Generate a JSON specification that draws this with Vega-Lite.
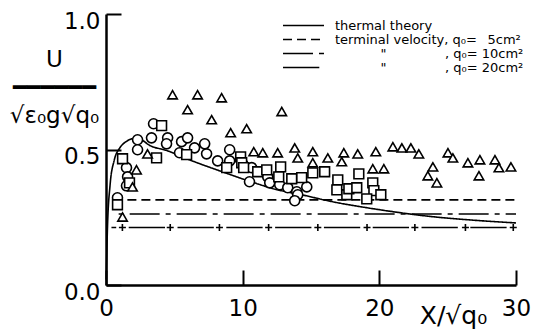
{
  "$schema": "https://vega.github.io/schema/vega-lite/v6.json",
  "width": 410,
  "height": 271,
  "autosize": {"type": "none"},
  "padding": {"left": 106, "top": 14, "right": 18, "bottom": 51},
  "background": "white",
  "config": {
    "view": {"stroke": null},
    "font": "DejaVu Sans",
    "axis": {
      "domainColor": "black",
      "domainWidth": 2.5,
      "tickColor": "black",
      "tickWidth": 2,
      "labelColor": "black",
      "titleColor": "black",
      "titleFontWeight": "normal",
      "grid": false,
      "labelFont": "DejaVu Sans",
      "titleFont": "DejaVu Sans"
    }
  },
  "datasets": {
    "curves": [
      {"series": "thermal", "x": 0.02, "u": 0.02},
      {"series": "thermal", "x": 0.1, "u": 0.2},
      {"series": "thermal", "x": 0.3, "u": 0.37},
      {"series": "thermal", "x": 0.6, "u": 0.46},
      {"series": "thermal", "x": 1.0, "u": 0.505},
      {"series": "thermal", "x": 1.5, "u": 0.53},
      {"series": "thermal", "x": 2.0, "u": 0.54},
      {"series": "thermal", "x": 2.6, "u": 0.535},
      {"series": "thermal", "x": 3.2, "u": 0.515},
      {"series": "thermal", "x": 4.4, "u": 0.497},
      {"series": "thermal", "x": 6.1, "u": 0.462},
      {"series": "thermal", "x": 8.5, "u": 0.418},
      {"series": "thermal", "x": 10.5, "u": 0.383},
      {"series": "thermal", "x": 12.5, "u": 0.352},
      {"series": "thermal", "x": 14.4, "u": 0.332},
      {"series": "thermal", "x": 16.6, "u": 0.307},
      {"series": "thermal", "x": 19.1, "u": 0.285},
      {"series": "thermal", "x": 21.5, "u": 0.267},
      {"series": "thermal", "x": 23.9, "u": 0.252},
      {"series": "thermal", "x": 26.4, "u": 0.241},
      {"series": "thermal", "x": 30.0, "u": 0.229},
      {"series": "tv5", "x": 0.8, "u": 0.314},
      {"series": "tv5", "x": 30.0, "u": 0.314},
      {"series": "tv10", "x": 0.6, "u": 0.262},
      {"series": "tv10", "x": 30.0, "u": 0.262},
      {"series": "tv20", "x": 0.4, "u": 0.212},
      {"series": "tv20", "x": 30.0, "u": 0.212}
    ],
    "crosses": [
      {"x": 1.2, "u": 0.212},
      {"x": 4.7, "u": 0.212},
      {"x": 8.3, "u": 0.212},
      {"x": 11.9, "u": 0.212},
      {"x": 15.5, "u": 0.212},
      {"x": 19.1, "u": 0.212},
      {"x": 22.6, "u": 0.212},
      {"x": 26.3, "u": 0.212},
      {"x": 29.8, "u": 0.212}
    ],
    "obs": [
      {"q": "q5", "x": 0.84, "u": 0.322},
      {"q": "q5", "x": 1.5, "u": 0.433},
      {"q": "q5", "x": 1.58, "u": 0.399},
      {"q": "q5", "x": 1.5, "u": 0.366},
      {"q": "q5", "x": 2.31, "u": 0.536},
      {"q": "q5", "x": 2.31, "u": 0.499},
      {"q": "q5", "x": 3.33, "u": 0.543},
      {"q": "q5", "x": 3.48, "u": 0.595},
      {"q": "q5", "x": 4.51, "u": 0.543},
      {"q": "q5", "x": 4.43, "u": 0.521},
      {"q": "q5", "x": 5.53, "u": 0.529},
      {"q": "q5", "x": 5.38, "u": 0.488},
      {"q": "q5", "x": 5.97, "u": 0.543},
      {"q": "q5", "x": 6.48, "u": 0.506},
      {"q": "q5", "x": 7.22, "u": 0.521},
      {"q": "q5", "x": 7.36, "u": 0.484},
      {"q": "q5", "x": 8.17, "u": 0.458},
      {"q": "q5", "x": 9.05, "u": 0.499},
      {"q": "q5", "x": 9.05, "u": 0.458},
      {"q": "q5", "x": 10.0, "u": 0.447},
      {"q": "q5", "x": 10.66, "u": 0.433},
      {"q": "q5", "x": 10.5, "u": 0.381},
      {"q": "q5", "x": 11.83, "u": 0.399},
      {"q": "q5", "x": 11.98, "u": 0.377},
      {"q": "q5", "x": 12.71, "u": 0.37},
      {"q": "q5", "x": 13.3, "u": 0.359},
      {"q": "q5", "x": 13.96, "u": 0.344},
      {"q": "q5", "x": 14.69, "u": 0.362},
      {"q": "q5", "x": 14.03, "u": 0.333},
      {"q": "q5", "x": 13.81, "u": 0.311},
      {"q": "q10", "x": 0.84, "u": 0.296},
      {"q": "q10", "x": 1.21, "u": 0.466},
      {"q": "q10", "x": 1.72, "u": 0.377},
      {"q": "q10", "x": 4.07, "u": 0.588},
      {"q": "q10", "x": 3.7, "u": 0.469},
      {"q": "q10", "x": 5.9, "u": 0.481},
      {"q": "q10", "x": 9.85, "u": 0.473},
      {"q": "q10", "x": 9.93, "u": 0.451},
      {"q": "q10", "x": 8.83, "u": 0.433},
      {"q": "q10", "x": 10.07, "u": 0.433},
      {"q": "q10", "x": 11.1, "u": 0.418},
      {"q": "q10", "x": 11.76, "u": 0.425},
      {"q": "q10", "x": 12.78, "u": 0.436},
      {"q": "q10", "x": 12.64, "u": 0.399},
      {"q": "q10", "x": 13.59, "u": 0.392},
      {"q": "q10", "x": 14.32, "u": 0.396},
      {"q": "q10", "x": 15.13, "u": 0.414},
      {"q": "q10", "x": 16.0, "u": 0.418},
      {"q": "q10", "x": 16.96, "u": 0.388},
      {"q": "q10", "x": 16.89, "u": 0.351},
      {"q": "q10", "x": 17.62, "u": 0.333},
      {"q": "q10", "x": 17.77, "u": 0.355},
      {"q": "q10", "x": 18.35, "u": 0.359},
      {"q": "q10", "x": 18.5, "u": 0.41},
      {"q": "q10", "x": 19.52, "u": 0.377},
      {"q": "q10", "x": 19.6, "u": 0.348},
      {"q": "q10", "x": 19.08, "u": 0.318},
      {"q": "q10", "x": 20.11, "u": 0.333},
      {"q": "q20", "x": 1.21, "u": 0.251},
      {"q": "q20", "x": 1.94, "u": 0.362},
      {"q": "q20", "x": 2.23, "u": 0.425},
      {"q": "q20", "x": 3.04, "u": 0.484},
      {"q": "q20", "x": 4.87, "u": 0.702},
      {"q": "q20", "x": 6.7, "u": 0.702},
      {"q": "q20", "x": 8.46, "u": 0.691},
      {"q": "q20", "x": 5.97, "u": 0.647},
      {"q": "q20", "x": 7.73, "u": 0.61},
      {"q": "q20", "x": 12.86, "u": 0.64},
      {"q": "q20", "x": 9.12, "u": 0.562},
      {"q": "q20", "x": 10.29, "u": 0.577},
      {"q": "q20", "x": 10.81, "u": 0.492},
      {"q": "q20", "x": 11.47, "u": 0.488},
      {"q": "q20", "x": 12.56, "u": 0.488},
      {"q": "q20", "x": 13.81, "u": 0.506},
      {"q": "q20", "x": 14.03, "u": 0.469},
      {"q": "q20", "x": 15.13, "u": 0.492},
      {"q": "q20", "x": 15.13, "u": 0.451},
      {"q": "q20", "x": 16.23, "u": 0.469},
      {"q": "q20", "x": 17.4, "u": 0.488},
      {"q": "q20", "x": 17.25, "u": 0.455},
      {"q": "q20", "x": 18.42, "u": 0.484},
      {"q": "q20", "x": 19.74, "u": 0.492},
      {"q": "q20", "x": 19.52, "u": 0.429},
      {"q": "q20", "x": 20.33, "u": 0.429},
      {"q": "q20", "x": 20.99, "u": 0.51},
      {"q": "q20", "x": 21.65, "u": 0.506},
      {"q": "q20", "x": 22.31, "u": 0.506},
      {"q": "q20", "x": 22.89, "u": 0.484},
      {"q": "q20", "x": 23.92, "u": 0.436},
      {"q": "q20", "x": 23.55, "u": 0.403},
      {"q": "q20", "x": 24.21, "u": 0.377},
      {"q": "q20", "x": 25.02, "u": 0.488},
      {"q": "q20", "x": 25.38, "u": 0.469},
      {"q": "q20", "x": 26.48, "u": 0.451},
      {"q": "q20", "x": 27.36, "u": 0.462},
      {"q": "q20", "x": 27.29, "u": 0.403},
      {"q": "q20", "x": 28.46, "u": 0.462},
      {"q": "q20", "x": 28.75, "u": 0.433},
      {"q": "q20", "x": 29.63, "u": 0.436}
    ]
  },
  "layer": [
    {
      "data": {"name": "curves"},
      "mark": {
        "type": "line",
        "stroke": "black",
        "strokeWidth": 1.6,
        "strokeDashOffset": 31.55,
        "interpolate": "monotone"
      },
      "encoding": {
        "x": {
          "field": "x",
          "type": "quantitative",
          "scale": {"domain": [0, 30], "nice": false},
          "axis": {
            "values": [0, 10, 20, 30],
            "format": "d",
            "title": "X/√q₀",
            "titleX": 347,
            "titleY": 30,
            "titleAlign": "center",
            "titleBaseline": "middle",
            "titleFontSize": 25,
            "labelFontSize": 23,
            "labelPadding": 27,
            "labelFlush": false,
            "labelOverlap": false,
            "tickSize": -15
          }
        },
        "y": {
          "field": "u",
          "type": "quantitative",
          "scale": {"domain": [0, 1], "nice": false},
          "axis": {
            "values": [0, 0.5, 1],
            "format": ".1f",
            "title": ["U", "━━━━━━", "√ε₀g√q₀"],
            "titleAngle": 0,
            "titleX": -52,
            "titleY": 34,
            "titleAlign": "center",
            "titleBaseline": "top",
            "titleFontSize": 23,
            "titleLineHeight": 28,
            "labelFontSize": 23,
            "labelPadding": 21,
            "labelOffset": 7,
            "labelFlush": false,
            "labelOverlap": false,
            "tickSize": -15
          }
        },
        "detail": {"field": "series"},
        "strokeDash": {
          "field": "series",
          "type": "nominal",
          "scale": {
            "domain": ["thermal", "tv5", "tv10", "tv20"],
            "range": [[1, 0], [9, 5], [30, 6, 5, 6], [36.3, 12.5]]
          },
          "legend": {
            "orient": "none",
            "legendX": 191,
            "legendY": 5,
            "title": null,
            "padding": 0,
            "symbolType": "M-4,0H4",
            "symbolSize": 105,
            "symbolStrokeWidth": 1.4,
            "symbolStrokeColor": "black",
            "labelFontSize": 13,
            "labelColor": "black",
            "labelLimit": 0,
            "labelOffset": 25,
            "rowPadding": 0,
            "labelExpr": "datum.value == 'thermal' ? 'thermal theory' : datum.value == 'tv5' ? 'terminal velocity, q₀=\u2002 5cm²' : datum.value == 'tv10' ? '\u200b\u2003\u2003\u2003\u2002\"\u2003\u2003\u2003\u2003\u2002, q₀= 10cm²' : '\u200b\u2003\u2003\u2003\u2002\"\u2003\u2003\u2003\u2003\u2002, q₀= 20cm²'"
          }
        }
      }
    },
    {
      "data": {"name": "crosses"},
      "mark": {
        "type": "point",
        "shape": "M-1,0H1M0,-1V1",
        "size": 49,
        "filled": false,
        "stroke": "black",
        "strokeWidth": 1.6,
        "opacity": 1
      },
      "encoding": {
        "x": {"field": "x", "type": "quantitative"},
        "y": {"field": "u", "type": "quantitative"}
      }
    },
    {
      "data": {"name": "obs"},
      "mark": {
        "type": "point",
        "filled": true,
        "fill": "white",
        "stroke": "black",
        "strokeWidth": 1.6,
        "opacity": 1
      },
      "encoding": {
        "x": {"field": "x", "type": "quantitative"},
        "y": {"field": "u", "type": "quantitative"},
        "shape": {
          "field": "q",
          "type": "nominal",
          "scale": {"domain": ["q5", "q10", "q20"], "range": ["circle", "square", "triangle-up"]},
          "legend": null
        },
        "size": {
          "field": "q",
          "type": "nominal",
          "scale": {"domain": ["q5", "q10", "q20"], "range": [100, 90, 121]},
          "legend": null
        }
      }
    }
  ]
}
